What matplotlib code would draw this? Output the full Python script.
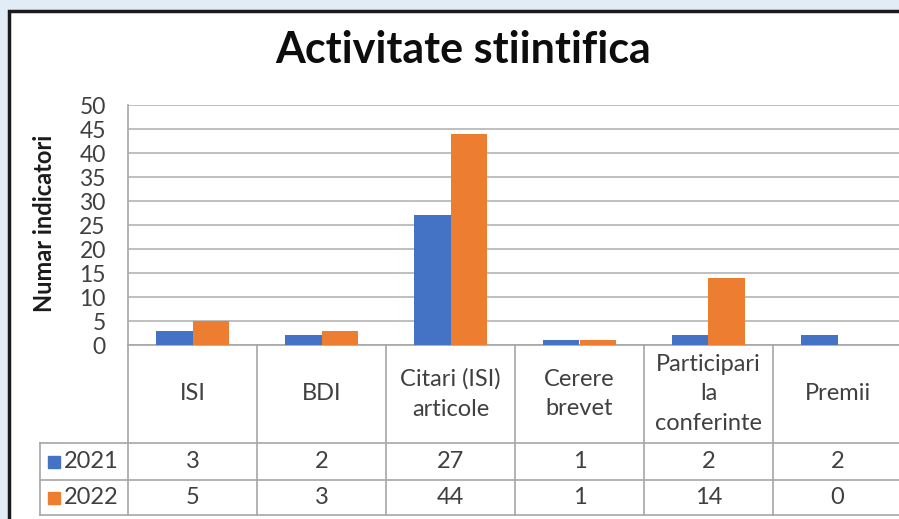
import matplotlib.pyplot as plt
from matplotlib.patches import Rectangle

plt.rcParams['font.family'] = ['Lato', 'DejaVu Sans']

categories = ['ISI', 'BDI', 'Citari (ISI)\narticole', 'Cerere\nbrevet',
              'Participari\nla\nconferinte', 'Premii']
years = ['2021', '2022']
v2021 = [3, 2, 27, 1, 2, 2]
v2022 = [5, 3, 44, 1, 14, 0]
colors = ['#4472C4', '#ED7D31']
yticks = [0, 5, 10, 15, 20, 25, 30, 35, 40, 45, 50]

W, H = 899, 519
fig = plt.figure(figsize=(W / 100, H / 100), dpi=100)
fig.patch.set_facecolor('#e1ecf7')

# white panel with dark frame
fig.patches.append(Rectangle((9 / W, -0.1), 1.2, (H - 11) / H + 0.1,
                             transform=fig.transFigure, facecolor='white',
                             edgecolor='#1a1a1a', linewidth=2.5, zorder=-5))

px_cat = 129.0
left, right, top, bottom = 128, 128 + 6 * px_cat, 105, 345
ax = fig.add_axes([left / W, (H - bottom) / H, (right - left) / W, (bottom - top) / H])
ax.set_zorder(2)
ax.set_facecolor('white')

x = list(range(len(categories)))
bw = 0.283
ax.bar([i - bw / 2 for i in x], v2021, width=bw, color=colors[0], zorder=3)
ax.bar([i + bw / 2 for i in x], v2022, width=bw, color=colors[1], zorder=3)

ax.set_xlim(-0.5, 5.5)
ax.set_ylim(0, 50)
ax.set_yticks(yticks)
ax.set_yticklabels([str(t) for t in yticks], fontsize=16.5, color='#404040')
ax.tick_params(axis='y', length=0, pad=16)
ax.set_xticks([])
ax.yaxis.grid(True, color='#bfbfbf', linewidth=1.4, zorder=0)
ax.set_axisbelow(True)
for s in ['top', 'right']:
    ax.spines[s].set_visible(False)
for s in ['left', 'bottom']:
    ax.spines[s].set_color('#a6a6a6')
    ax.spines[s].set_linewidth(1.2)

fig.text(45 / W, 1 - 223 / H, 'Numar indicatori', fontsize=17, fontweight='bold',
         rotation=90, ha='center', va='center', color='#1a1a1a')

fig.text(463 / W, 1 - 50 / H, 'Activitate stiintifica', fontsize=31,
         fontweight='bold', ha='center', va='center', color='#0d0d0d')

# data table under the plot
tr = ax.get_xaxis_transform()
hpx = bottom - top
y1 = -(443 - bottom) / hpx
y2 = -(480 - bottom) / hpx
y3 = -(515 - bottom) / hpx
x_leg = -0.5 - (left - 40) / px_cat
lc = '#a6a6a6'

for i in range(len(categories) + 1):
    ax.plot([i - 0.5, i - 0.5], [0, y3], transform=tr, color=lc, lw=1.2, clip_on=False)
ax.plot([x_leg, x_leg], [y1, y3], transform=tr, color=lc, lw=1.2, clip_on=False)
for yy in [y1, y2, y3]:
    ax.plot([x_leg, 5.5], [yy, yy], transform=tr, color=lc, lw=1.2, clip_on=False)

for i, c in enumerate(categories):
    ax.text(i, y1 / 2, c, transform=tr, ha='center', va='center', fontsize=17,
            color='#404040', linespacing=1.5)

rows = [v2021, v2022]
for r, (yr, vals) in enumerate(zip(years, rows)):
    yc = (y1 + y2) / 2 if r == 0 else (y2 + y3) / 2
    ax.plot([-0.5 - (left - 54) / px_cat], [yc], marker='s', markersize=8.8,
            color=colors[r], transform=tr, clip_on=False)
    ax.text(-0.5 - (left - 64) / px_cat, yc, yr, transform=tr, ha='left',
            va='center', fontsize=17, color='#404040')
    for i, v in enumerate(vals):
        ax.text(i, yc, str(v), transform=tr, ha='center', va='center',
                fontsize=17, color='#404040')

fig.savefig('out.png', dpi=100, facecolor=fig.get_facecolor())
